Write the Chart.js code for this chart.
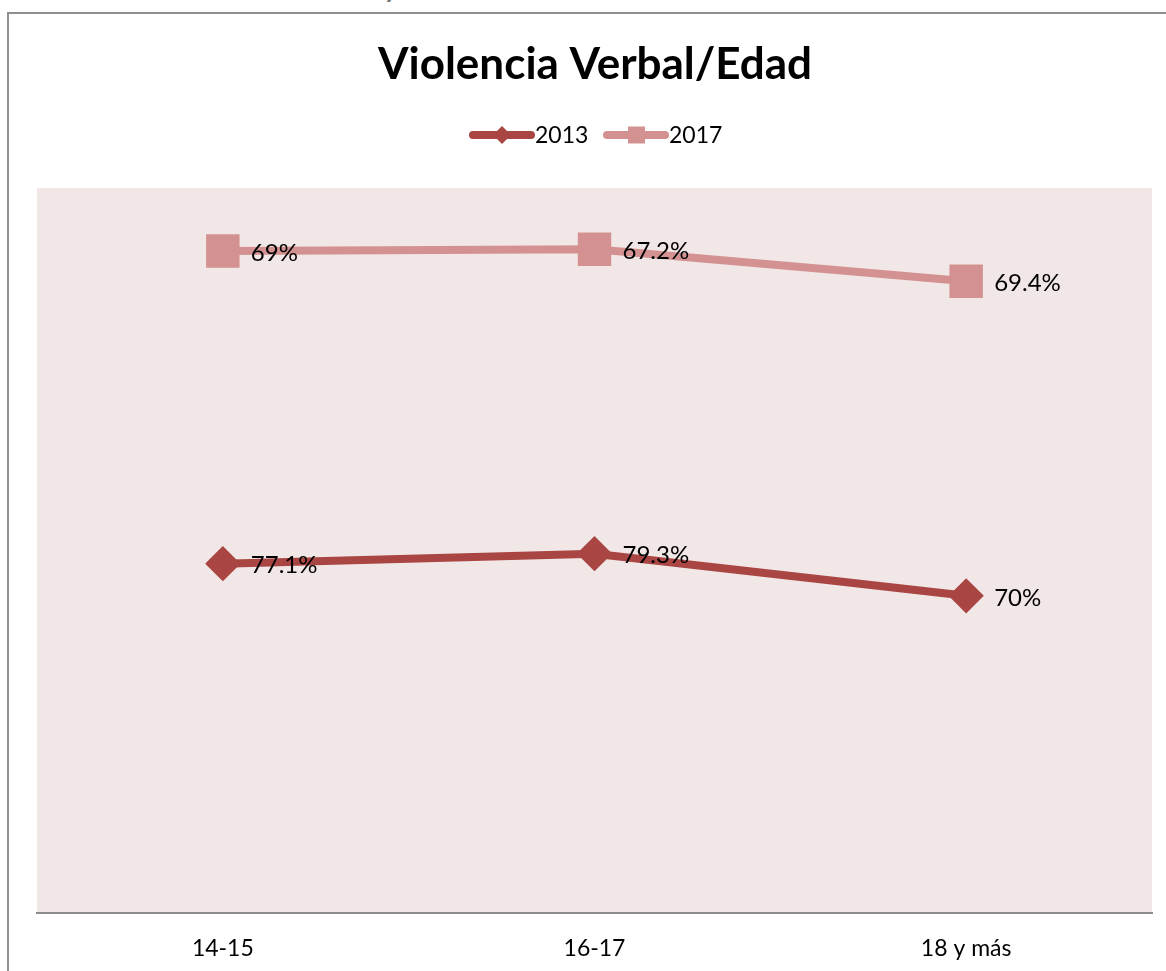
<!DOCTYPE html>
<html>
<head>
<meta charset="utf-8">
<script src="https://cdn.jsdelivr.net/npm/chart.js@4"></script>
<style>
  html, body { margin: 0; padding: 0; background: #fff; overflow: hidden; }
  #wrap { position: relative; width: 1166px; height: 971px; }
  #caption {
    position: absolute; left: 4px; top: -33px; margin: 0; line-height: 1.2;
    font: bold 33px Lato, sans-serif; color: #777; white-space: nowrap;
  }
  #frame {
    position: absolute; left: 7px; top: 12px; width: 1200px; height: 1000px;
    border-left: 2px solid #8f8f8f; border-top: 2px solid #8f8f8f;
  }
  #chart { position: absolute; left: 0; top: 0; }
</style>
</head>
<body>
<div id="wrap">
  <p id="caption">Gráfico 7. Violencia verbal/edad de los adolescentes estudiados</p>
  <div id="frame"></div>
  <canvas id="chart" width="1166" height="971"></canvas>
</div>
<script>
const ageGroups = ['14-15', '16-17', '18 y más'];
const values2013 = [77.1, 79.3, 70];
const values2017 = [69, 67.2, 69.4];

const color2013 = '#a94543';
const color2017 = '#d39291';
const plotBg = '#f2e7e7';
const labelFont = '24px Lato, sans-serif';

// shaded plot area behind the lines
const plotBackground = {
    id: 'plotBackground',
    beforeDraw(chart) {
        const { ctx, chartArea: a } = chart;
        ctx.save();
        ctx.fillStyle = plotBg;
        ctx.fillRect(a.left, a.top, a.right - a.left, a.bottom - a.top);
        ctx.restore();
    }
};

// title, legend and value labels
const decorations = {
    id: 'decorations',
    afterDatasetsDraw(chart) {
        const ctx = chart.ctx;
        ctx.save();

        ctx.fillStyle = '#000';
        ctx.textAlign = 'center';
        ctx.textBaseline = 'middle';
        ctx.font = 'bold 44px Lato, sans-serif';
        ctx.fillText('Violencia Verbal/Edad', 595, 65);

        // legend entries: line sample with marker, then label
        const entries = [
            { ds: chart.data.datasets[0], x: 473 },
            { ds: chart.data.datasets[1], x: 607 }
        ];
        const ly = 135;
        entries.forEach(e => {
            ctx.strokeStyle = e.ds.borderColor;
            ctx.lineWidth = 8;
            ctx.lineCap = 'round';
            ctx.beginPath();
            ctx.moveTo(e.x, ly);
            ctx.lineTo(e.x + 58, ly);
            ctx.stroke();
            ctx.fillStyle = e.ds.borderColor;
            if (e.ds.pointStyle === 'rectRot') {
                const r = 9, cx = e.x + 29;
                ctx.beginPath();
                ctx.moveTo(cx, ly - r);
                ctx.lineTo(cx + r, ly);
                ctx.lineTo(cx, ly + r);
                ctx.lineTo(cx - r, ly);
                ctx.closePath();
                ctx.fill();
            } else {
                ctx.fillRect(e.x + 21, ly - 8.5, 17, 17);
            }
            ctx.fillStyle = '#000';
            ctx.textAlign = 'left';
            ctx.font = '23px Lato, sans-serif';
            ctx.fillText(e.ds.label, e.x + 62, ly + 1);
        });

        // raw values next to each point
        ctx.font = labelFont;
        ctx.textAlign = 'left';
        ctx.fillStyle = '#000';
        chart.data.datasets.forEach((ds, i) => {
            chart.getDatasetMeta(i).data.forEach((pt, j) => {
                ctx.fillText(ds.data[j] + '%', pt.x + 28, pt.y + 2);
            });
        });
        ctx.restore();
    }
};

new Chart(document.getElementById('chart'), {
    type: 'line',
    data: {
        labels: ageGroups,
        datasets: [
            {
                label: '2013',
                data: values2013,
                borderColor: color2013,
                backgroundColor: color2013,
                borderWidth: 8,
                pointStyle: 'rectRot',
                pointRadius: 12,
                pointHoverRadius: 12,
                tension: 0
            },
            {
                label: '2017',
                data: values2017,
                borderColor: color2017,
                backgroundColor: color2017,
                borderWidth: 8,
                pointStyle: 'rect',
                pointRadius: 18,
                pointHoverRadius: 18,
                tension: 0
            }
        ]
    },
    options: {
        responsive: false,
        animation: false,
        events: [],
        layout: { autoPadding: false, padding: { left: 37, right: 14, top: 188, bottom: 0 } },
        plugins: {
            legend: { display: false },
            title: { display: false },
            tooltip: { enabled: false }
        },
        scales: {
            x: {
                offset: true,
                grid: { display: false },
                border: { display: true, color: '#8c8c8c', width: 2 },
                ticks: { color: '#000', font: { family: 'Lato', size: 23 }, padding: 14 },
                afterFit(scale) {
                    scale.height = 58;
                    scale.paddingLeft = 0;
                    scale.paddingRight = 0;
                }
            },
            y: {
                display: false,
                stacked: true,
                min: 0,
                max: 160
            }
        }
    },
    plugins: [plotBackground, decorations]
});
</script>
</body>
</html>
